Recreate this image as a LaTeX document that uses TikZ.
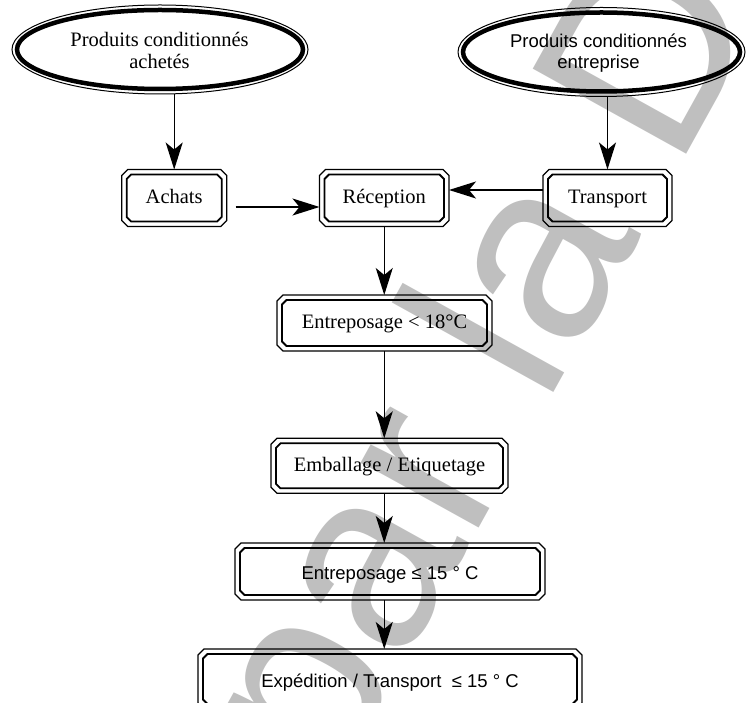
\documentclass[tikz,border=0pt]{standalone}
\usepackage{fontspec}
\setmainfont{Liberation Serif}
\newfontfamily\sansarial{Liberation Sans}
\usetikzlibrary{arrows.meta,calc,shapes.geometric}

% double frame with cut corners around a node: thin outer line, heavier inner line
\newcommand\dframe[1]{%
  \draw[frameout] ([xshift=6pt]#1.north west) -- ([xshift=-6pt]#1.north east)
    -- ([yshift=-6pt]#1.north east) -- ([yshift=6pt]#1.south east)
    -- ([xshift=-6pt]#1.south east) -- ([xshift=6pt]#1.south west)
    -- ([yshift=6pt]#1.south west) -- ([yshift=-6pt]#1.north west) -- cycle;
  \draw[framein] ([xshift=9.5pt,yshift=-5pt]#1.north west) -- ([xshift=-9.5pt,yshift=-5pt]#1.north east)
    -- ([xshift=-5pt,yshift=-9.5pt]#1.north east) -- ([xshift=-5pt,yshift=9.5pt]#1.south east)
    -- ([xshift=-9.5pt,yshift=5pt]#1.south east) -- ([xshift=9.5pt,yshift=5pt]#1.south west)
    -- ([xshift=5pt,yshift=9.5pt]#1.south west) -- ([xshift=5pt,yshift=-9.5pt]#1.north west) -- cycle;
}

\begin{document}
\begin{tikzpicture}[x=1pt,y=1pt,
  arr/.style={line width=1.4pt,-{Stealth[length=27pt,width=17pt,inset=7pt]}},
  box/.style={draw=none,inner sep=0pt,outer sep=0pt,text height=12pt,text depth=0pt},
  sbox/.style={box,text height=16pt},
  serifB/.style={font=\fontsize{20.5}{22.5}\selectfont},
  sansA/.style={font=\sansarial\fontsize{18.5}{21}\selectfont},
  frameout/.style={line width=1.2pt},
  framein/.style={line width=1.8pt},
  ovalout/.style={ellipse,draw,line width=1pt,inner sep=0pt,outer sep=0pt},
  ovalin/.style={line width=4.5pt},
  wm/.style={text=black!25,font=\sansarial\fontsize{255}{255}\selectfont,inner sep=0pt}
]
\useasboundingbox (0,0) rectangle (746,702);
\clip (0,0) rectangle (746,702);

% background stamp
\node[wm,rotate=61,anchor=base west] (stamp) at (333,-90) {par la D};

% sources
\node[ovalout,minimum width=296pt,minimum height=89pt] (e1) at (160,652.5) {};
\draw[ovalin] (e1.center) ellipse [x radius=143pt,y radius=39.5pt];
\node[serifB,align=center] (e1t) at (159.5,651.5) {Produits conditionnés\\achetés};

\node[ovalout,minimum width=287pt,minimum height=89pt] (e2) at (601.5,650) {};
\draw[ovalin] (e2.center) ellipse [x radius=138.5pt,y radius=39.5pt];
\node[sansA,align=center] (e2t) at (598.5,648.4) {Produits conditionnés\\entreprise};

% process steps
\node[box,serifB,minimum width=105pt,minimum height=57pt] (achats) at (174.2,504) {Achats};
\node[box,serifB,minimum width=129.5pt,minimum height=57pt] (reception) at (384.25,504) {Réception};
\node[box,serifB,minimum width=129pt,minimum height=57pt] (transport) at (607.5,504) {Transport};
\node[box,serifB,minimum width=215pt,minimum height=56pt] (e18) at (384.5,379) {Entreposage < 18°C};
\node[box,serifB,minimum width=237pt,minimum height=55pt] (emb) at (389.5,236.2) {Emballage / Etiquetage};
\node[sbox,sansA,minimum width=310pt,minimum height=57pt] (e15) at (390,130.5) {Entreposage ≤ 15 ° C};
\node[sbox,sansA,minimum width=384pt,minimum height=60pt] (exped) at (390,23) {Expédition / Transport~~≤ 15 ° C};

\foreach \n in {achats,reception,transport,e18,emb,e15,exped} {\dframe{\n}}

% flow
\draw[arr] (e1.south -| achats.north) -- (achats.north);
\draw[arr] (e2.south -| transport.north) -- (transport.north);
\draw[arr] ([xshift=9pt,yshift=-9pt]achats.east) -- ([yshift=-9pt]reception.west);
\draw[arr] ([yshift=8pt]transport.west) -- ([yshift=8pt]reception.east);
\draw[arr] (reception.south) -- (e18.north -| reception.south);
\draw[arr] (e18.south -| reception.south) -- (emb.north -| reception.south);
\draw[arr] (emb.south -| reception.south) -- (e15.north -| reception.south);
\draw[arr] (e15.south -| reception.south) -- (exped.north -| reception.south);
\end{tikzpicture}
\end{document}
